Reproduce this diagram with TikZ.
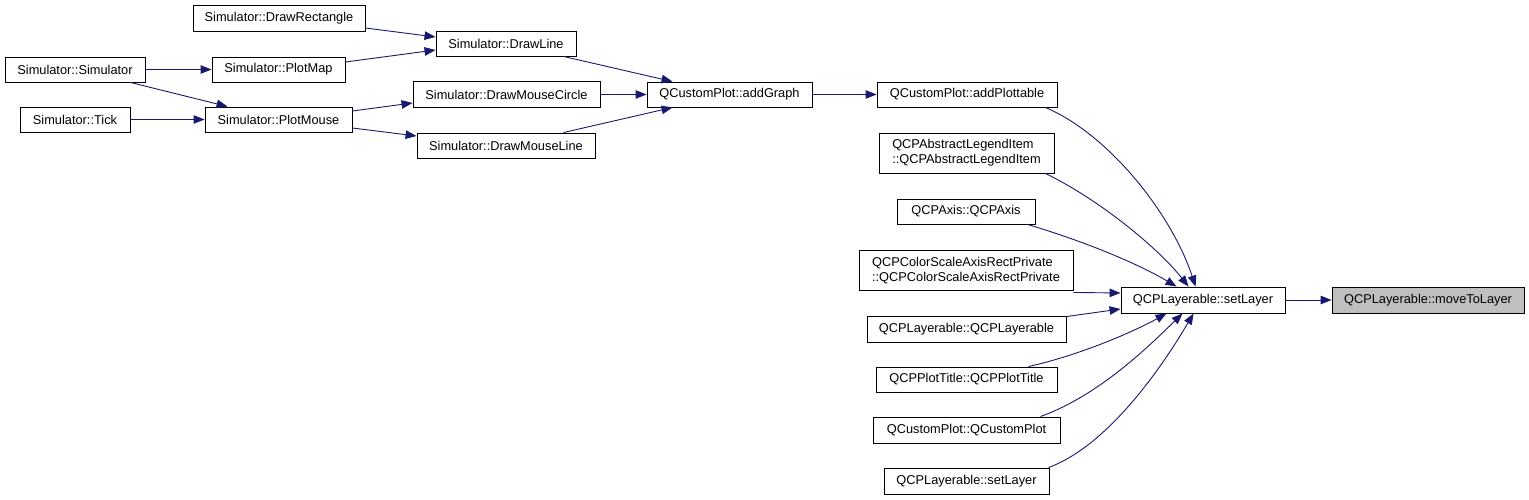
\documentclass[tikz,border=0pt]{standalone}
\usepackage{fontspec}
\setmainfont{Liberation Sans}
\usetikzlibrary{arrows.meta}
\definecolor{edgeblue}{HTML}{191970}
\definecolor{graybox}{HTML}{BFBFBF}
\tikzset{
  box/.style={draw=black, line width=0.9pt, fill=white, rectangle, inner sep=0pt, align=center, font=\fontsize{12.8}{15}\selectfont},
  twoline/.style={box, align=left},
  hilite/.style={box, fill=graybox},
  edge/.style={draw=edgeblue, line width=0.9pt, -{Triangle[length=11pt,width=8.5pt]}}
}
\begin{document}
\begin{tikzpicture}[x=1pt,y=-1pt]
\useasboundingbox (0,0) rectangle (1529,500);
% nodes
\node[box, minimum width=172pt, minimum height=26pt] (drect) at (279,18) {Simulator::DrawRectangle};
\node[box, minimum width=140pt, minimum height=25pt] (sim) at (75,69.5) {Simulator::Simulator};
\node[box, minimum width=133pt, minimum height=25pt] (pmap) at (278.5,69.5) {Simulator::PlotMap};
\node[box, minimum width=110pt, minimum height=25pt] (tick) at (75,119.5) {Simulator::Tick};
\node[box, minimum width=147pt, minimum height=25pt] (pmouse) at (278.5,119.5) {Simulator::PlotMouse};
\node[box, minimum width=140pt, minimum height=25pt] (dline) at (506,43.5) {Simulator::DrawLine};
\node[box, minimum width=187pt, minimum height=26pt] (dmc) at (506.5,94.5) {Simulator::DrawMouseCircle};
\node[box, minimum width=178pt, minimum height=25pt] (dml) at (506,145.5) {Simulator::DrawMouseLine};
\node[box, minimum width=165pt, minimum height=25pt] (ag) at (729.5,94.5) {QCustomPlot::addGraph};
\node[box, minimum width=180pt, minimum height=25pt] (ap) at (967,94.5) {QCustomPlot::addPlottable};
\node[twoline, minimum width=175pt, minimum height=40pt] (legend) at (966.5,153) {QCPAbstractLegendItem\\::QCPAbstractLegendItem};
\node[box, minimum width=138pt, minimum height=25pt] (axis) at (966,211.5) {QCPAxis::QCPAxis};
\node[twoline, minimum width=214pt, minimum height=40pt] (cs) at (966,270.5) {QCPColorScaleAxisRectPrivate\\::QCPColorScaleAxisRectPrivate};
\node[box, minimum width=199pt, minimum height=26pt] (layer) at (966.5,329) {QCPLayerable::QCPLayerable};
\node[box, minimum width=181pt, minimum height=25pt] (title) at (966.5,379.5) {QCPPlotTitle::QCPPlotTitle};
\node[box, minimum width=187pt, minimum height=26pt] (qcp) at (966.5,430) {QCustomPlot::QCustomPlot};
\node[box, minimum width=165pt, minimum height=26pt] (sl2) at (966.5,481) {QCPLayerable::setLayer};
\node[box, minimum width=164pt, minimum height=26pt] (sl) at (1203,300) {QCPLayerable::setLayer};
\node[hilite, minimum width=192pt, minimum height=26pt] (mtl) at (1428,300) {QCPLayerable::moveToLayer};
% edges left part
\draw[edge] (sim.east) -- (pmap.west);
\draw[edge] ([xshift=-15pt]sim.south east) -- ([xshift=23pt]pmouse.north west);
\draw[edge] (tick.east) -- (pmouse.west);
\draw[edge] ([yshift=-10pt]drect.east) -- ([yshift=6.5pt]dline.west);
\draw[edge] ([yshift=7.5pt]pmap.east) -- ([yshift=-6.5pt]dline.west);
\draw[edge] ([yshift=8.5pt]pmouse.east) -- ([yshift=-8.5pt]dmc.west);
\draw[edge] ([yshift=-8.5pt]pmouse.east) -- ([yshift=9.5pt]dml.west);
\draw[edge] ([xshift=-13pt]dline.south east) -- ([xshift=26pt]ag.north west);
\draw[edge] (dmc.east) -- (ag.west);
\draw[edge] ([xshift=-32pt]dml.north east) -- ([xshift=26pt]ag.south west);
\draw[edge] (ag.east) -- (ap.west);
% edges to setLayer
\draw[edge] ([xshift=-12pt]ap.south east) .. controls (1110,135) and (1172,215) .. ([xshift=75pt]sl.north west);
\draw[edge] ([xshift=-9pt]legend.south east) .. controls (1100,200) and (1158,248) .. ([xshift=68pt]sl.north west);
\draw[edge] ([xshift=-8pt]axis.south east) .. controls (1080,240) and (1135,262) .. ([xshift=56pt]sl.north west);
\draw[edge] ([yshift=-1.5pt]cs.south east) -- ([yshift=7pt]sl.west);
\draw[edge] ([yshift=-1pt]layer.north east) -- ([yshift=-9pt]sl.west);
\draw[edge] ([xshift=-29pt]title.north east) .. controls (1080,355) and (1133,332) .. ([xshift=46pt]sl.south west);
\draw[edge] ([xshift=-20pt]qcp.north east) .. controls (1100,395) and (1150,345) .. ([xshift=62pt]sl.south west);
\draw[edge] ([xshift=-1pt]sl2.north east) .. controls (1110,445) and (1165,362) .. ([xshift=73pt]sl.south west);
\draw[edge] (sl.east) -- (mtl.west);
\end{tikzpicture}
\end{document}
